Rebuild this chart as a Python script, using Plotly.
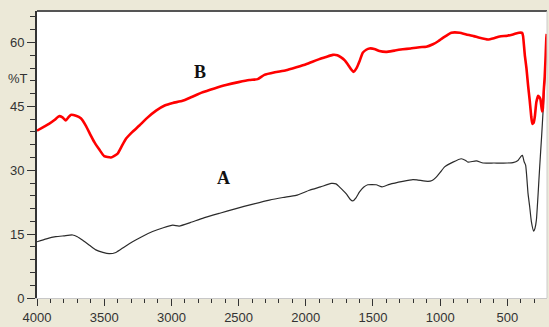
import plotly.graph_objects as go

# ---- data ----
wn_b = [4000, 3950, 3911, 3870, 3836, 3810, 3786, 3765, 3749, 3710, 3674, 3637, 3600, 3573, 3535,
        3500, 3450, 3400, 3370, 3338, 3290, 3238, 3180, 3114, 3050, 2990, 2917, 2850, 2768, 2680,
        2594, 2500, 2420, 2358, 2308, 2230, 2147, 2070, 1998, 1950, 1899, 1850, 1799, 1765, 1737,
        1710, 1688, 1660, 1645, 1620, 1600, 1576, 1550, 1526, 1490, 1452, 1402, 1340, 1278, 1220,
        1153, 1103, 1054, 1015, 980, 950, 917, 855, 806, 750, 706, 644, 600, 557, 500, 458, 413,
        390, 383, 370, 358, 346, 334, 322, 314, 304, 296, 284, 271, 262, 254, 242, 236, 230, 222,
        215, 210, 207]
t_b = [39.3, 40.2, 40.9, 41.8, 42.7, 42.4, 41.7, 42.5, 43.0, 42.8, 42.2, 40.5, 38.2, 36.6, 34.8,
       33.3, 33.0, 33.9, 35.6, 37.4, 39.0, 40.5, 42.3, 44.0, 45.2, 45.8, 46.3, 47.2, 48.3, 49.2,
       50.0, 50.7, 51.2, 51.4, 52.4, 53.0, 53.5, 54.2, 54.9, 55.5, 56.1, 56.6, 57.1, 57.0, 56.5,
       55.8, 54.9, 53.6, 53.1, 54.1, 55.6, 57.6, 58.3, 58.6, 58.5, 58.0, 57.8, 58.1, 58.4, 58.6,
       58.9, 59.0, 59.6, 60.3, 61.1, 61.7, 62.3, 62.3, 61.9, 61.5, 61.1, 60.7, 61.0, 61.4, 61.6,
       61.9, 62.3, 62.3, 61.5, 57.0, 54.0, 50.0, 46.5, 42.5, 40.9, 41.2, 42.5, 46.0, 47.5, 47.2,
       46.7, 43.8, 44.5, 48.3, 52.0, 57.0, 61.0, 62.0]

wn_a = [4000, 3930, 3860, 3800, 3736, 3700, 3662, 3610, 3562, 3510, 3463, 3413, 3350, 3289, 3220,
        3140, 3060, 2990, 2942, 2860, 2768, 2640, 2519, 2400, 2271, 2170, 2072, 1973, 1890, 1811,
        1775, 1750, 1700, 1670, 1650, 1625, 1600, 1570, 1539, 1476, 1432, 1377, 1278, 1203, 1166,
        1091, 1060, 1029, 1000, 967, 905, 843, 810, 793, 731, 681, 600, 500, 458, 421, 400, 388,
        375, 364, 346, 334, 321, 304, 295, 284, 272, 259, 245, 234, 222, 210, 207]
t_a = [13.2, 13.9, 14.4, 14.6, 14.8, 14.4, 13.6, 12.4, 11.3, 10.7, 10.4, 10.7, 12.0, 13.2, 14.4,
       15.6, 16.5, 17.1, 16.9, 17.7, 18.7, 19.9, 21.0, 22.0, 23.0, 23.6, 24.1, 25.3, 26.1, 26.9,
       26.8, 26.1, 24.5, 23.2, 22.8, 23.6, 24.9, 26.0, 26.6, 26.6, 26.1, 26.7, 27.4, 27.8, 27.7,
       27.4, 27.6, 28.4, 29.5, 30.8, 31.9, 32.7, 32.3, 31.9, 32.2, 31.7, 31.7, 31.7, 31.8, 32.3,
       33.2, 33.5, 32.0, 31.2, 24.5, 21.5, 17.9, 15.7, 16.3, 18.3, 24.0, 31.0, 38.0, 44.0, 51.0,
       59.0, 61.5]

x_ticks = [4000, 3500, 3000, 2500, 2000, 1500, 1000, 500]
y_ticks = [0, 15, 30, 45, 60]
labels = [("B", 2790, 53.0), ("A", 2611, 28.1)]

fig = go.Figure()
fig.add_trace(go.Scatter(x=wn_a, y=t_a, mode="lines",
                         line=dict(color="#2b2b2b", width=1.2, shape="spline", smoothing=0.5),
                         hoverinfo="skip"))
fig.add_trace(go.Scatter(x=wn_b, y=t_b, mode="lines",
                         line=dict(color="#ff0000", width=2.6, shape="spline", smoothing=0.4),
                         hoverinfo="skip"))

for txt, x, y in labels:
    fig.add_annotation(x=x, y=y, text="<b>%s</b>" % txt, showarrow=False,
                       font=dict(family="Liberation Serif", size=18, color="#111111"))

fig.add_annotation(xref="paper", yref="paper", x=-0.038, y=0.765, text="%T",
                   showarrow=False, xanchor="center", yanchor="middle",
                   font=dict(family="Liberation Sans", size=13, color="#333333"))

# top and right borders of the plot area
fig.add_shape(type="line", xref="paper", yref="paper", x0=0, x1=1, y0=1, y1=1,
              line=dict(color="#555555", width=2))
fig.add_shape(type="line", xref="paper", yref="paper", x0=1, x1=1, y0=0, y1=1,
              line=dict(color="#cccccc", width=1))

fig.update_layout(
    width=549, height=327,
    margin=dict(l=37, r=2, t=11, b=26),
    paper_bgcolor="#ECE9D8", plot_bgcolor="#ffffff",
    showlegend=False,
    font=dict(family="Liberation Sans", size=13, color="#333333"),
    xaxis=dict(range=[4000, 205], tickvals=x_ticks, ticktext=[str(v) for v in x_ticks],
               showgrid=False, zeroline=False, showline=True, linecolor="#c8c8c8", linewidth=1,
               ticks="outside", ticklen=7, tickcolor="#333333", tickwidth=1,
               minor=dict(dtick=100, tick0=0, ticks="outside", ticklen=4,
                          tickcolor="#333333", showgrid=False),
               tickfont=dict(family="Liberation Sans", size=13, color="#333333")),
    yaxis=dict(range=[0, 67.4], tickvals=y_ticks, ticktext=[str(v) for v in y_ticks],
               showgrid=False, zeroline=False, showline=True, linecolor="#333333", linewidth=2,
               ticks="outside", ticklen=8, tickcolor="#333333", tickwidth=1,
               minor=dict(dtick=3, tick0=0, ticks="outside", ticklen=5,
                          tickcolor="#333333", showgrid=False),
               tickfont=dict(family="Liberation Sans", size=13, color="#333333")),
)

fig.write_html("out.html")
